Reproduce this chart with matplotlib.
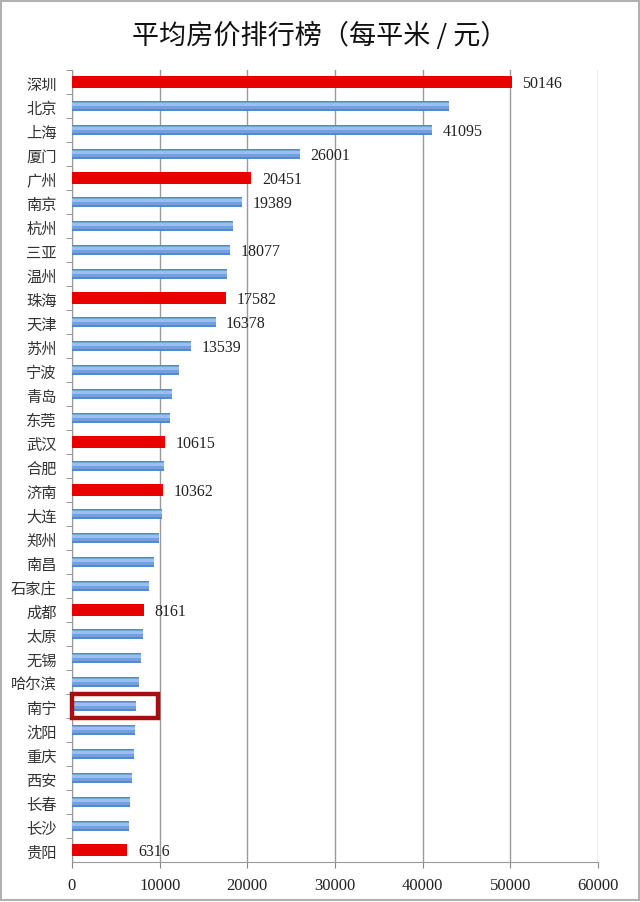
import matplotlib
matplotlib.use("Agg")
import matplotlib.pyplot as plt
from matplotlib.patches import Rectangle

plt.rcParams['font.family'] = ['Noto Sans CJK SC', 'DejaVu Sans']

title = "平均房价排行榜（每平米 / 元）"
cities = ["深圳", "北京", "上海", "厦门", "广州", "南京", "杭州", "三亚", "温州", "珠海",
          "天津", "苏州", "宁波", "青岛", "东莞", "武汉", "合肥", "济南", "大连", "郑州",
          "南昌", "石家庄", "成都", "太原", "无锡", "哈尔滨", "南宁", "沈阳", "重庆", "西安",
          "长春", "长沙", "贵阳"]
prices = [50146, 42950, 41095, 26001, 20451, 19389, 18400, 18077, 17700, 17582,
          16378, 13539, 12150, 11360, 11140, 10615, 10450, 10362, 10230, 9900,
          9320, 8750, 8161, 8100, 7850, 7600, 7350, 7150, 7050, 6800,
          6600, 6550, 6316]
highlight = ["深圳", "广州", "珠海", "武汉", "济南", "成都", "贵阳"]
labeled = ["深圳", "上海", "厦门", "广州", "南京", "三亚", "珠海", "天津", "苏州",
           "武汉", "济南", "成都", "贵阳"]
boxed_city = "南宁"
xticks = [0, 10000, 20000, 30000, 40000, 50000, 60000]

fig = plt.figure(figsize=(6.4, 9.03), dpi=100)
ax = fig.add_axes([0.1125, 0.0443, 0.822, 0.877])

ypos = list(range(len(cities)))
red_idx = [i for i, c in enumerate(cities) if c in highlight]
blue_idx = [i for i, c in enumerate(cities) if c not in highlight]

# blue bars with a soft layered shading
by = [ypos[i] for i in blue_idx]
bv = [prices[i] for i in blue_idx]
ax.barh(by, bv, height=0.44, color='#5488d2', zorder=3)
ax.barh([y - 0.03 for y in by], bv, height=0.30, color='#73a0e0', zorder=4)
ax.barh([y - 0.06 for y in by], bv, height=0.14, color='#9dbeee', zorder=5)
# red bars
ax.barh([ypos[i] for i in red_idx], [prices[i] for i in red_idx], height=0.48,
        color='#e80000', zorder=3)

for i, c in enumerate(cities):
    if c in labeled:
        ax.text(prices[i] + 1200, ypos[i] + 0.05, f"{prices[i]}", va='center', ha='left',
                fontsize=11.5, family='Liberation Serif', color='#222222', zorder=6)

# red highlight box
bi = cities.index(boxed_city)
ax.add_patch(Rectangle((-50, bi - 0.5), 9850, 0.98, fill=False, edgecolor='#a50f0f',
                       linewidth=3.2, zorder=7, clip_on=False))

ax.set_xlim(0, 60000)
ax.set_ylim(len(cities) - 0.5, -0.5)
ax.set_xticks(xticks)
ax.set_xticklabels([str(t) for t in xticks], family='Liberation Serif', fontsize=12,
                   color='#222222')
ax.set_yticks(ypos)
ax.set_yticklabels(cities, fontsize=11, color='#333333')
ax.tick_params(axis='y', which='major', length=0, pad=11)
ax.set_yticks([y + 0.5 for y in ypos[:-1]] + [-0.5], minor=True)
ax.tick_params(axis='y', which='minor', length=4, color='#888888', direction='out')
ax.tick_params(axis='x', which='major', length=4, color='#888888', pad=7)

ax.grid(axis='x', color='#9a9a9a', linewidth=1.0, zorder=0)
for s in ['top', 'right']:
    ax.spines[s].set_visible(False)
for s in ['left', 'bottom']:
    ax.spines[s].set_color('#999999')

fig.text(0.5, 0.960, title, ha='center', va='center', fontsize=19.5, color='#111111')

fig.add_artist(Rectangle((0.002, 0.002), 0.996, 0.996, transform=fig.transFigure,
                         fill=False, edgecolor='#b0b0b0', linewidth=1.5))

fig.savefig("out.png", dpi=100, facecolor='white')
